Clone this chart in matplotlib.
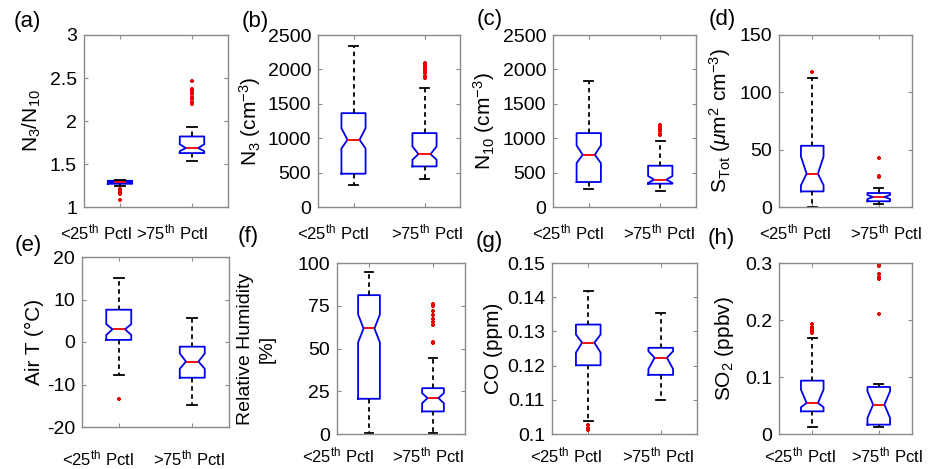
import matplotlib
matplotlib.use('Agg')
import matplotlib.pyplot as plt
import matplotlib.transforms as mtransforms

plt.rcParams['font.family'] = ['Liberation Sans', 'DejaVu Sans']
plt.rcParams['mathtext.fontset'] = 'custom'
plt.rcParams['mathtext.rm'] = 'Liberation Sans'
plt.rcParams['mathtext.it'] = 'Liberation Sans:italic'
plt.rcParams['mathtext.bf'] = 'Liberation Sans:bold'

# ---------------- data ----------------
groups = [r'<25$^{\mathrm{th}}$ Pctl', r'>75$^{\mathrm{th}}$ Pctl']

# each box: [whisker low, q1, median, q3, whisker high]
a_box = [[1.24, 1.27, 1.29, 1.305, 1.31], [1.54, 1.627, 1.685, 1.82, 1.93]]
a_notch = [[1.28, 1.30], [1.65, 1.73]]
a_fliers = [[1.085, 1.15, 1.17, 1.19, 1.21],
            [2.46, 2.37, 2.35, 2.33, 2.31, 2.28, 2.25, 2.22, 2.20]]

b_box = [[324, 484, 977, 1364, 2345], [411, 590, 769, 1074, 1726]]
b_notch = [[850, 1145], [687, 880]]
b_fliers = [[], [2100, 2070, 2040, 2000, 1980, 1950, 1900, 1870]]

c_box = [[261, 363, 759, 1074, 1838], [237, 339, 397, 600, 957]]
c_notch = [[638, 895], [350, 450]]
c_fliers = [[], [1190, 1160, 1130, 1100, 1060, 1040]]

d_box = [[0, 13.6, 29, 53.4, 112.3], [3, 5, 8.7, 12.2, 16.5]]
d_notch = [[19, 44], [7, 10.5]]
d_fliers = [[118], [42.7, 26.7, 26]]

e_box = [[-7.8, 0.5, 3.0, 7.6, 15.0], [-14.8, -8.4, -4.6, -1.1, 5.6]]
e_notch = [[1.65, 4.2], [-6.3, -2.7]]
e_fliers = [[-13.4], []]

f_box = [[0.6, 20.6, 61.7, 81.2, 94.8], [0.6, 13.2, 21, 26.8, 44.3]]
f_notch = [[53.6, 69.9], [18, 23.9]]
f_fliers = [[], [76, 75, 72, 69.5, 67.5, 65.6, 63.7, 54, 53]]

g_box = [[0.1039, 0.1201, 0.1267, 0.132, 0.1417], [0.1099, 0.1173, 0.1223, 0.1252, 0.1354]]
g_notch = [[0.1238, 0.1291], [0.1190, 0.1242]]
g_fliers = [[0.1026, 0.1019, 0.1013], []]

h_box = [[0.012, 0.0398, 0.0544, 0.0936, 0.168], [0.012, 0.0164, 0.0515, 0.0825, 0.0877]]
h_notch = [[0.047, 0.078], [0.028, 0.075]]
h_fliers = [[0.193, 0.188, 0.184, 0.181, 0.177],
            [0.300, 0.297, 0.294, 0.280, 0.276, 0.272, 0.211]]

ylabels = [r'N$_3$/N$_{10}$', r'N$_3$ (cm$^{-3}$)', r'N$_{10}$ (cm$^{-3}$)',
           r'S$_{\mathrm{Tot}}$ ($\mu$m$^2$ cm$^{-3}$)', 'Air T (°C)',
           'Relative Humidity\n[%]', 'CO (ppm)', r'SO$_2$ (ppbv)']
panel_tags = ['(a)', '(b)', '(c)', '(d)', '(e)', '(f)', '(g)', '(h)']
ylims = [(1, 3), (0, 2500), (0, 2500), (0, 150), (-20, 20), (0, 100), (0.1, 0.15), (0, 0.3)]
yticks = [[1, 1.5, 2, 2.5, 3], [0, 500, 1000, 1500, 2000, 2500],
          [0, 500, 1000, 1500, 2000, 2500], [0, 50, 100, 150],
          [-20, -10, 0, 10, 20], [0, 25, 50, 75, 100],
          [0.1, 0.11, 0.12, 0.13, 0.14, 0.15], [0, 0.1, 0.2, 0.3]]
yticklabels = [['1', '1.5', '2', '2.5', '3'], ['0', '500', '1000', '1500', '2000', '2500'],
               ['0', '500', '1000', '1500', '2000', '2500'], ['0', '50', '100', '150'],
               ['-20', '-10', '0', '10', '20'], ['0', '25', '50', '75', '100'],
               ['0.1', '0.11', '0.12', '0.13', '0.14', '0.15'], ['0', '0.1', '0.2', '0.3']]

boxes = [a_box, b_box, c_box, d_box, e_box, f_box, g_box, h_box]
notches = [a_notch, b_notch, c_notch, d_notch, e_notch, f_notch, g_notch, h_notch]
fliers = [a_fliers, b_fliers, c_fliers, d_fliers, e_fliers, f_fliers, g_fliers, h_fliers]

# ---------------- layout (pixels) ----------------
W, H = 934, 469
# left, right, top, bottom in pixels
ax_px = [(84, 228, 35, 207), (318, 460, 35, 207), (553, 696, 35, 207), (779, 912, 35, 207),
         (82, 229, 257, 427), (337, 465, 263, 434), (552, 697, 263, 434), (779, 912, 263, 434)]
label_x = [-0.36, -0.48, -0.48, -0.44, -0.32, -0.63, -0.40, -0.41]
ylabel_size = [15, 15, 15, 15, 15, 14, 15, 15]
tag_px = [(27, 21), (255, 21), (490, 19), (722, 19), (28, 246), (248, 236), (489, 241), (721, 238)]
# centres (pixels) of the two group labels under each panel
xlab_px = [((96, 232), (172, 232)), ((333, 232), (427, 232)),
           ((568, 232), (659, 232)), ((795, 232), (886, 232)),
           ((98, 458), (189, 458)), ((338, 455), (428, 455)),
           ((566, 455), (658, 455)), ((800, 455), (887, 455))]

fig = plt.figure(figsize=(W / 100, H / 100), dpi=100)
frame = '#8a8a8a'

for i in range(8):
    l, r, t, b = ax_px[i]
    ax = fig.add_axes([l / W, 1 - b / H, (r - l) / W, (b - t) / H])
    stats = []
    for k in range(2):
        lo, q1, med, q3, hi = boxes[i][k]
        stats.append(dict(whislo=lo, q1=q1, med=med, q3=q3, whishi=hi,
                          cilo=notches[i][k][0], cihi=notches[i][k][1],
                          fliers=fliers[i][k], label=groups[k]))
    ax.bxp(stats, positions=[1, 2], widths=0.34, shownotches=True, capwidths=0.13,
           boxprops=dict(color='#0000ee', linewidth=1.3),
           medianprops=dict(color='#ee0000', linewidth=1.3),
           whiskerprops=dict(color='black', linestyle=(0, (2.5, 2)), linewidth=1.3),
           capprops=dict(color='black', linewidth=1.3),
           flierprops=dict(marker='+', markeredgecolor='#ee0000', markersize=3.5,
                           markeredgewidth=1.6, linestyle='none'))
    ax.set_xlim(0.5, 2.5)
    ax.set_ylim(*ylims[i])
    ax.set_yticks(yticks[i])
    ax.set_yticklabels(yticklabels[i], fontsize=14)
    ax.set_xticks([1, 2])
    ax.set_xticklabels(groups, fontsize=12)
    ax.tick_params(direction='in', length=3, width=0.8, color=frame,
                   top=True, right=True, pad=5)
    for s in ax.spines.values():
        s.set_color(frame)
        s.set_linewidth(1.0)
    ax.set_ylabel(ylabels[i], fontsize=ylabel_size[i], va='center', ha='center',
                  linespacing=1.3)
    ax.yaxis.set_label_coords(label_x[i], 0.5)
    # shift group labels to their places in the reference
    for k, lab in enumerate(ax.get_xticklabels()):
        tick_px = l + (k + 1 - 0.5) / 2.0 * (r - l)
        cx, cy = xlab_px[i][k]
        dx = (cx - tick_px) / 100.0
        dy = -(cy - b) / 100.0
        lab.set_transform(ax.get_xaxis_transform() +
                          mtransforms.ScaledTranslation(dx, dy, fig.dpi_scale_trans))
        lab.set_va('center')
        lab.set_y(0)
    fig.text(tag_px[i][0] / W, 1 - tag_px[i][1] / H, panel_tags[i], fontsize=16,
             ha='center', va='center')

fig.savefig('out.png', dpi=100)
